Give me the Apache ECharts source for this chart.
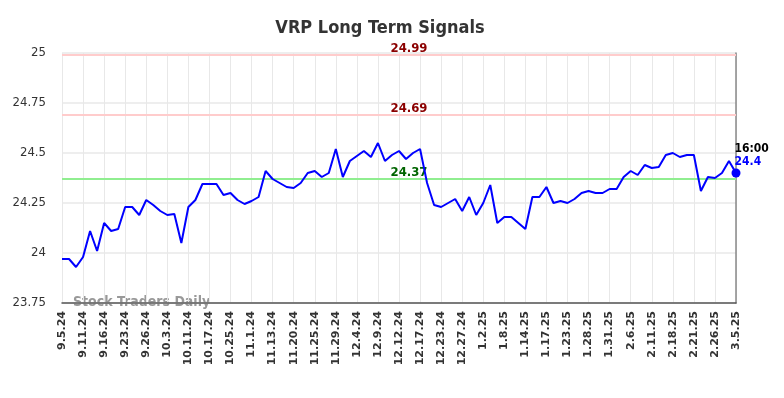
<!DOCTYPE html>
<html>
<head>
<meta charset="utf-8">
<script src="https://cdn.jsdelivr.net/npm/echarts@6/dist/echarts.min.js"></script>
<style>
  html, body { margin: 0; padding: 0; background: #fff; }
  #chart { width: 784px; height: 398px; }
</style>
</head>
<body>
<div id="chart"></div>
<script>
// dates shown on the axis (every 3rd one is labelled)
const dates = [
  '9.5.24', '9.6.24', '9.9.24', '9.11.24', '9.12.24', '9.13.24', '9.16.24', '9.18.24', '9.20.24',
  '9.23.24', '9.24.24', '9.25.24', '9.26.24', '9.30.24', '10.1.24', '10.3.24', '10.8.24', '10.10.24',
  '10.11.24', '10.14.24', '10.16.24', '10.17.24', '10.21.24', '10.23.24', '10.25.24', '10.29.24', '10.31.24',
  '11.1.24', '11.6.24', '11.11.24', '11.13.24', '11.15.24', '11.19.24', '11.20.24', '11.21.24', '11.22.24',
  '11.25.24', '11.26.24', '11.27.24', '11.29.24', '12.2.24', '12.3.24', '12.4.24', '12.5.24', '12.6.24',
  '12.9.24', '12.10.24', '12.11.24', '12.12.24', '12.13.24', '12.16.24', '12.17.24', '12.18.24', '12.20.24',
  '12.23.24', '12.24.24', '12.26.24', '12.27.24', '12.30.24', '12.31.24', '1.2.25', '1.3.25', '1.6.25',
  '1.8.25', '1.10.25', '1.13.25', '1.14.25', '1.15.25', '1.16.25', '1.17.25', '1.21.25', '1.22.25',
  '1.23.25', '1.24.25', '1.27.25', '1.28.25', '1.29.25', '1.30.25', '1.31.25', '2.3.25', '2.4.25',
  '2.6.25', '2.7.25', '2.10.25', '2.11.25', '2.12.25', '2.14.25', '2.18.25', '2.19.25', '2.20.25',
  '2.21.25', '2.24.25', '2.25.25', '2.26.25', '2.27.25', '3.3.25', '3.5.25'
];

const prices = [
  23.97, 23.97, 23.93, 23.98, 24.11, 24.01, 24.15, 24.11, 24.12,
  24.23, 24.23, 24.19, 24.265, 24.24, 24.21, 24.19, 24.195, 24.05,
  24.23, 24.265, 24.345, 24.345, 24.345, 24.29, 24.30, 24.265, 24.245,
  24.26, 24.28, 24.41, 24.37, 24.35, 24.33, 24.325, 24.35, 24.40,
  24.41, 24.38, 24.40, 24.52, 24.38, 24.46, 24.485, 24.51, 24.48,
  24.55, 24.46, 24.49, 24.51, 24.47, 24.50, 24.52, 24.35, 24.24,
  24.23, 24.25, 24.27, 24.21, 24.28, 24.19, 24.25, 24.34, 24.15,
  24.18, 24.18, 24.15, 24.12, 24.28, 24.28, 24.33, 24.25, 24.26,
  24.25, 24.27, 24.30, 24.31, 24.30, 24.30, 24.32, 24.32, 24.38,
  24.41, 24.39, 24.44, 24.425, 24.43, 24.49, 24.50, 24.48, 24.49,
  24.49, 24.31, 24.38, 24.375, 24.40, 24.46, 24.40
];

const resistanceLevels = [24.99, 24.69];
const supportLevels = [24.37];
const lastTime = '16:00';
const lastPrice = 24.4;

const yTicks = { min: 23.75, max: 25, step: 0.25 };

const font = 'DejaVu Sans Condensed, DejaVu Sans, sans-serif';

const chart = echarts.init(document.getElementById('chart'));

function levelLine(v, lineColor, textColor) {
  return {
    yAxis: v,
    lineStyle: { color: lineColor, width: 2, type: 'solid' },
    label: { show: true, position: 'insideMiddleTop', formatter: String(v), color: textColor,
      fontWeight: 'bold', fontSize: 13, fontFamily: font, distance: 0, offset: [10, 0] }
  };
}
const levelLines = resistanceLevels.map(v => levelLine(v, '#ffcccc', '#8b0000'))
  .concat(supportLevels.map(v => levelLine(v, '#90ee90', '#006400')));

const seriesData = prices.map((v, i) => {
  if (i !== prices.length - 1) return v;
  return {
    value: v,
    symbol: 'circle',
    symbolSize: 9,
    itemStyle: { color: '#0000ff' },
    label: {
      show: true,
      position: [3, -26],
      align: 'left',
      formatter: '{t|' + lastTime + '}\n{p|' + lastPrice + '}',
      rich: {
        t: { color: '#000', fontWeight: 'bold', fontSize: 12, fontFamily: font, lineHeight: 13 },
        p: { color: '#0000ff', fontWeight: 'bold', fontSize: 12, fontFamily: font, lineHeight: 13 }
      }
    }
  };
});

chart.setOption({
  animation: false,
  title: {
    text: 'VRP Long Term Signals',
    left: 375,
    textAlign: 'center',
    top: 14,
    textStyle: { color: '#333', fontSize: 18, fontWeight: 'bold', fontFamily: font }
  },
  grid: { left: 62, right: 48, top: 53, bottom: 95 },
  graphic: [{
    type: 'text',
    left: 73,
    top: 295,
    style: { text: 'Stock Traders Daily', fill: '#999', font: 'bold 14px ' + font }
  }],
  xAxis: {
    type: 'category',
    data: dates,
    boundaryGap: false,
    axisLine: { lineStyle: { color: '#555', width: 1.5 } },
    axisTick: { show: false },
    axisLabel: {
      interval: 2,
      rotate: 90,
      color: '#333',
      fontWeight: 'bold',
      fontSize: 11,
      fontFamily: 'DejaVu Sans, sans-serif',
      margin: 8
    },
    splitLine: { show: true, interval: 2, lineStyle: { color: '#e8e8e8', width: 1 } }
  },
  yAxis: [{
    type: 'value',
    min: yTicks.min,
    max: yTicks.max,
    interval: yTicks.step,
    axisLine: { show: false },
    axisTick: { show: false },
    axisLabel: { color: '#333', fontSize: 13, fontFamily: font, margin: 16 },
    splitLine: { lineStyle: { color: '#e8e8e8', width: 1.5 } }
  }, {
    type: 'value',
    position: 'right',
    min: yTicks.min,
    max: yTicks.max,
    interval: yTicks.step,
    axisLine: { show: true, lineStyle: { color: '#888', width: 1.5 } },
    axisTick: { show: false },
    axisLabel: { show: false },
    splitLine: { show: false }
  }],
  series: [{
    type: 'line',
    data: seriesData,
    z: 5,
    symbol: 'none',
    lineStyle: { color: '#0000ff', width: 2 },
    itemStyle: { color: '#0000ff' },
    markLine: {
      silent: true,
      symbol: 'none',
      z: 1,
      data: levelLines
    }
  }]
});
</script>
</body>
</html>
